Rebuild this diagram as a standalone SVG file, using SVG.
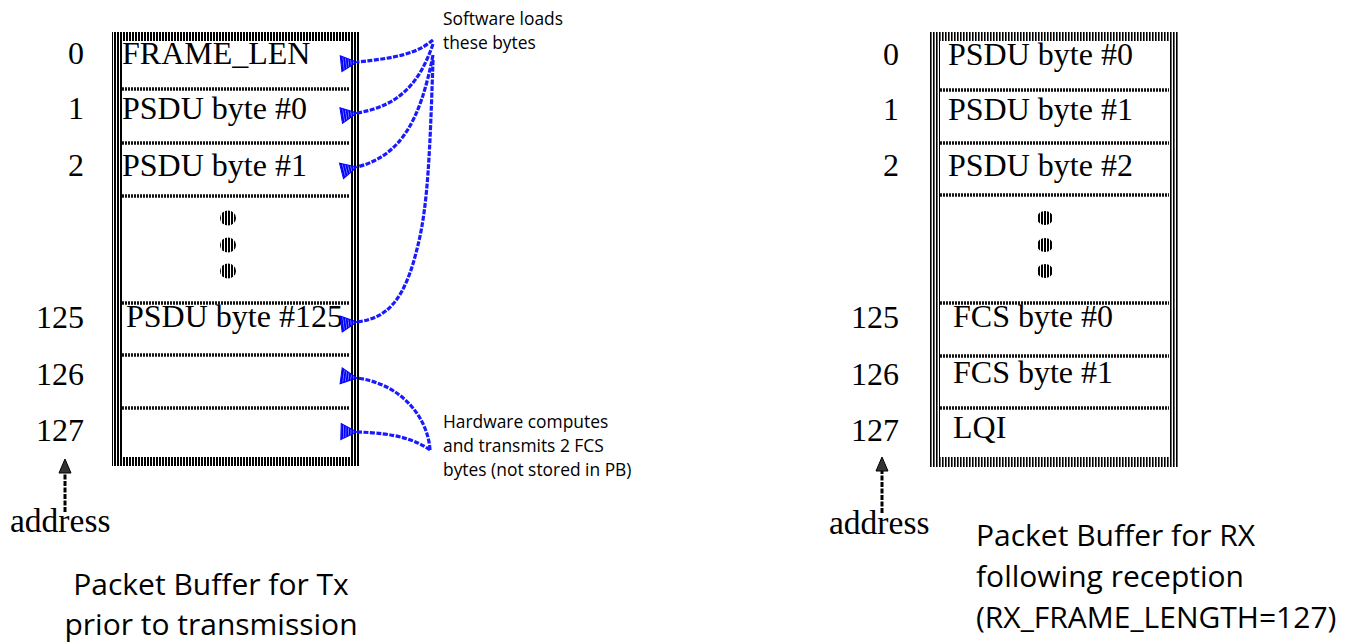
<svg xmlns="http://www.w3.org/2000/svg" width="1359" height="644" viewBox="0 0 1359 644">
<defs>
<pattern id="hatch" width="3" height="3" patternUnits="userSpaceOnUse"><rect width="3" height="3" fill="#fff"/><rect width="2" height="3" fill="#000"/></pattern>
<pattern id="hatch2" width="3" height="3" patternUnits="userSpaceOnUse"><rect width="3" height="3" fill="#fff"/><rect width="1.6" height="3" fill="#000"/></pattern>
<pattern id="bhatch" width="2.5" height="3" patternUnits="userSpaceOnUse"><rect width="2.5" height="3" fill="#9090ff"/><rect width="1.8" height="3" fill="#0000ff"/></pattern>
<marker id="barrow" markerUnits="userSpaceOnUse" markerWidth="20" markerHeight="20" viewBox="0 0 20 20" refX="1" refY="10" orient="auto">
<path d="M17,2 L1,10 L17,18 Z" fill="url(#bhatch)" stroke="#0000ff" stroke-width="1"/>
</marker>
</defs>
<style>
.tnr{font-family:"Liberation Serif","Times New Roman",serif;font-size:32px;fill:#000}
.num{text-anchor:end}
.cal{font-family:"Open Sans","Noto Sans",sans-serif;fill:#000}
.small{font-size:17.4px}
.title{font-size:30px}
.div{stroke:#111;stroke-width:3.5;stroke-dasharray:2 1;fill:none}
.blue{stroke:#1a1aff;stroke-width:3.2;stroke-dasharray:5 1.5;fill:none}
.addr{stroke:#000;stroke-width:3;stroke-dasharray:5 1.5;fill:none}
.ahead{fill:#333;stroke:#000;stroke-width:1}
.dot{fill:url(#hatch)}
</style>
<rect width="1359" height="644" fill="#fff"/>

<g id="tx-buffer">
<path d="M112,32 H360 V466 H112 Z M122,41 V457 H350 V41 Z" fill="url(#hatch)" fill-rule="evenodd"/>
<line class="div" x1="122" y1="89" x2="350" y2="89"/>
<line class="div" x1="122" y1="143" x2="350" y2="143"/>
<line class="div" x1="122" y1="196" x2="350" y2="196"/>
<line class="div" x1="122" y1="303" x2="350" y2="303"/>
<line class="div" x1="122" y1="355" x2="350" y2="355"/>
<line class="div" x1="122" y1="408" x2="350" y2="408"/>
<text class="tnr" x="122" y="64">FRAME_LEN</text>
<text class="tnr" x="122" y="119">PSDU byte #0</text>
<text class="tnr" x="122" y="176">PSDU byte #1</text>
<text class="tnr" x="126" y="327">PSDU byte #125</text>
<ellipse class="dot" cx="228" cy="218" rx="8" ry="7.5"/>
<ellipse class="dot" cx="228" cy="245" rx="8" ry="7.5"/>
<ellipse class="dot" cx="228" cy="271" rx="8" ry="7.5"/>
</g>

<g id="tx-addresses">
<text class="tnr num" x="84" y="64">0</text>
<text class="tnr num" x="84" y="119">1</text>
<text class="tnr num" x="84" y="176">2</text>
<text class="tnr num" x="84" y="328">125</text>
<text class="tnr num" x="84" y="385">126</text>
<text class="tnr num" x="84" y="441">127</text>
<text class="tnr" x="10" y="532" style="font-size:33.5px">address</text>
</g>

<g id="rx-buffer">
<path d="M930,32 H1178 V467 H930 Z M940,41 V457 H1169 V41 Z" fill="url(#hatch2)" fill-rule="evenodd"/>
<line class="div" x1="940" y1="90" x2="1169" y2="90"/>
<line class="div" x1="940" y1="143" x2="1169" y2="143"/>
<line class="div" x1="940" y1="195" x2="1169" y2="195"/>
<line class="div" x1="940" y1="303" x2="1169" y2="303"/>
<line class="div" x1="940" y1="356" x2="1169" y2="356"/>
<line class="div" x1="940" y1="408" x2="1169" y2="408"/>
<text class="tnr" x="948" y="65">PSDU byte #0</text>
<text class="tnr" x="948" y="120">PSDU byte #1</text>
<text class="tnr" x="948" y="176">PSDU byte #2</text>
<text class="tnr" x="953" y="327">FCS byte #0</text>
<text class="tnr" x="953" y="383">FCS byte #1</text>
<text class="tnr" x="953" y="438">LQI</text>
<ellipse class="dot" cx="1045" cy="218" rx="8" ry="7"/>
<ellipse class="dot" cx="1045" cy="245" rx="8" ry="7"/>
<ellipse class="dot" cx="1045" cy="271" rx="8" ry="7"/>
</g>

<g id="rx-addresses">
<text class="tnr num" x="899" y="65">0</text>
<text class="tnr num" x="899" y="120">1</text>
<text class="tnr num" x="899" y="176">2</text>
<text class="tnr num" x="899" y="328">125</text>
<text class="tnr num" x="899" y="385">126</text>
<text class="tnr num" x="899" y="441">127</text>
<text class="tnr" x="829" y="534" style="font-size:33.5px">address</text>
</g>

<g id="notes">
<text class="cal small" x="443" y="25">Software loads</text>
<text class="cal small" x="443" y="49">these bytes</text>
<text class="cal small" x="443" y="428">Hardware computes</text>
<text class="cal small" x="443" y="452">and transmits 2 FCS</text>
<text class="cal small" x="443" y="476">bytes (not stored in PB)</text>
<text class="cal title" x="211" y="595" text-anchor="middle">Packet Buffer for Tx</text>
<text class="cal title" x="211" y="635" text-anchor="middle">prior to transmission</text>
<text class="cal title" x="976" y="546">Packet Buffer for RX</text>
<text class="cal title" x="976" y="587">following reception</text>
<text class="cal title" x="976" y="628">(RX_FRAME_LENGTH=127)</text>
</g>

<g id="connectors">
<path class="blue" d="M433,40 C416,54 396,58 357,62" marker-end="url(#barrow)"/>
<path class="blue" d="M433,44 C420,82 400,106 357,113" marker-end="url(#barrow)"/>
<path class="blue" d="M433,55 C420,122 400,156 357,167" marker-end="url(#barrow)"/>
<path class="blue" d="M433,60 C430,150 428,205 418,245 C405,300 388,318 357,322" marker-end="url(#barrow)"/>
<path class="blue" d="M430,450 C428,418 402,384 357,378" marker-end="url(#barrow)"/>
<path class="blue" d="M430,450 C416,440 396,433 357,432" marker-end="url(#barrow)"/>
<path class="addr" d="M65,512 V470"/>
<polygon class="ahead" points="65,459 71,473 59,473"/>
<path class="addr" d="M882,513 V468"/>
<polygon class="ahead" points="882,457 888,471 876,471"/>
</g>
</svg>
